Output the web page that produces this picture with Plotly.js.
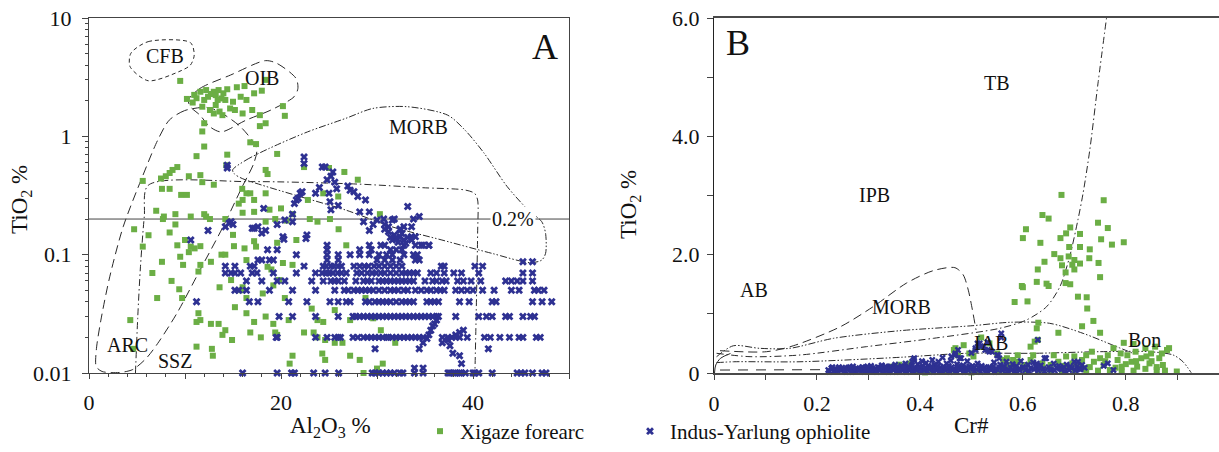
<!DOCTYPE html>
<html><head><meta charset="utf-8">
<script src="https://cdn.plot.ly/plotly-3.0.1.min.js"></script>
<style>html,body{margin:0;padding:0;background:#fff}#chart{width:1219px;height:452px}</style>
</head><body><div id="chart"></div>
<script>
// ---------------- DATA ----------------
// Panel A: Xigaze forearc (green) [Al2O3 %, TiO2 %]
const greenA = [[9.5,2.94],[10.2,2.07],[10.96,2.24],[11.2,2.1],[11.6,2.38],[12.2,2.46],[12.4,2.16],[12.7,2.28],[13.0,2.38],[13.2,2.23],[13.5,2.46],[13.8,2.09],[14.0,2.31],[14.2,2.03],[12.0,2.03],[11.8,1.78],[12.6,1.67],[13.2,1.84],[13.6,1.62],[13.9,1.51],[13.0,1.56],[14.7,1.72],[15.0,1.96],[15.4,2.6],[16.2,2.66],[15.8,2.16],[16.0,1.56],[16.4,2.03],[17.0,1.67],[17.2,2.31],[18.0,2.43],[18.4,3.0],[17.8,1.51],[18.4,1.29],[17.8,1.22],[20.2,1.80],[20.4,1.49],[10.8,1.93],[14.4,2.5],[13.4,2.03],[15.2,1.67],
[12.0,1.29],[11.8,1.1],[12.0,0.82],[11.2,0.68],[11.6,0.47],[14.4,0.70],[14.3,0.57],[16.8,0.89],[17.4,0.86],[19.6,0.71],[18.4,0.52],[18.6,0.48],[22.4,0.55],[25.0,0.54],[26.6,0.50],[28.0,0.43],[5.6,0.42],[7.5,0.44],[8.0,0.46],[8.4,0.49],[8.7,0.52],[9.2,0.55],[10.4,0.46],[11.8,0.41],[13.0,0.39],[9.6,0.32],[10.2,0.32],[7.6,0.36],[8.4,0.36],[7.0,0.235],[7.8,0.21],[7.7,0.2],[10.6,0.21],[12.0,0.22],[12.6,0.2],[12.2,0.21],[14.2,0.2],
[4.7,0.164],[6.2,0.146],[5.6,0.117],[8.4,0.154],[9.0,0.18],[9.2,0.12],[9.5,0.096],[9.8,0.082],[10.0,0.133],[10.4,0.105],[10.6,0.117],[11.0,0.113],[11.6,0.118],[11.6,0.082],[11.4,0.072],[12.7,0.087],[13.8,0.1],[14.2,0.1],[13.6,0.053],[14.8,0.061],[6.6,0.07],[7.6,0.087],[8.6,0.06],[9.4,0.051],[7.1,0.043],[9.7,0.043],[11.4,0.032],[11.2,0.027],[11.6,0.028],[12.7,0.026],[13.5,0.026],[14.2,0.023],[13.9,0.021],[14.9,0.019],[11.2,0.0167],[12.8,0.016],[12.9,0.014],[4.6,0.016],[4.3,0.028],
[15.2,0.036],[15.9,0.05],[16.0,0.053],[16.4,0.043],[16.4,0.032],[17.2,0.027],[16.8,0.022],[17.9,0.02],[18.4,0.03],[19.2,0.026],[19.4,0.022],[19.6,0.021],[18.1,0.047],[18.6,0.079],[19.0,0.075],[19.2,0.055],[19.8,0.061],[20.2,0.085],[20.4,0.043],[20.8,0.028],[20.9,0.012],[21.2,0.014],[22.4,0.022],[23.2,0.035],[23.4,0.022],[23.8,0.02],[23.8,0.028],[24.4,0.027],[24.6,0.019],[24.3,0.0146],[24.6,0.0129],[25.6,0.018],[25.6,0.034],[26.4,0.018],[27.2,0.014],[28.2,0.0129],[28.6,0.01],[30.0,0.0109],[30.6,0.012],[31.9,0.018],[30.4,0.023],[29.6,0.029],[27.2,0.028],[28.8,0.043],
[15.96,0.36],[16.4,0.33],[16.0,0.29],[16.8,0.33],[17.2,0.29],[18.4,0.33],[16.0,0.226],[17.2,0.23],[18.8,0.24],[19.4,0.2],[20.0,0.246],[20.6,0.194],[21.2,0.22],[21.6,0.133],[22.8,0.29],[23.0,0.2],[23.8,0.19],[24.4,0.33],[25.1,0.2],[25.96,0.31],[26.0,0.164],[26.8,0.12],[30.3,0.22],[19.6,0.126],[21.2,0.082],[15.6,0.27],[15.0,0.147],[15.1,0.118],[16.2,0.113],[17.4,0.117],[16.4,0.09],[17.2,0.13],[18.4,0.19],[9.0,0.22]];

// Panel A: Indus-Yarlung ophiolite (blue), Al2O3 values on each reported TiO2 level
const blueA_ti = [0.01,0.02,0.03,0.04,0.05,0.06,0.07,0.08,0.09,0.1,0.11,0.12];
const blueA_T001 = [16.0,19.6,21.1,21.4,23.4,24.6,26.0,29.5,29.8,30.2,30.6,31.0,31.4,31.8,32.4,32.7,33.9,34.8,37.4,37.6,38.0,38.2,38.6,38.8,39.2,40.0,40.2,40.6,42.0,44.6,45.0,45.4,46.2,47.2,47.6];
const blueA_T002 = [19.5,19.6,23.6,24.8,25.6,25.96,26.2,27.5,28.0,28.6,29.0,29.4,29.8,30.2,30.6,31.0,31.2,31.6,32.0,32.4,32.8,33.2,33.6,34.0,34.4,34.8,36.8,37.4,37.8,38.2,38.6,39.4,41.2,41.8,42.8,43.8,44.8,45.2,46.6,47.0];
const blueA_T003 = [19.8,21.2,23.6,25.96,27.5,27.8,28.2,28.6,29.0,29.4,29.8,30.2,30.6,31.0,31.4,31.8,32.2,32.6,33.0,33.4,33.8,34.2,34.6,35.0,35.4,35.8,36.2,36.4,38.2,40.6,41.4,42.0,43.4,43.8,45.2,46.0,46.4];
const blueA_T004 = [11.2,16.7,17.6,20.8,22.7,25.1,25.96,26.8,27.2,28.8,29.2,29.8,30.2,30.6,31.0,31.4,32.0,32.6,33.0,33.4,33.8,35.2,35.6,36.0,36.4,38.6,39.6,42.0,42.4,46.2,47.2,48.2];
const blueA_T005 = [15.2,15.6,16.4,18.8,21.2,23.6,25.6,26.6,27.0,27.6,28.0,28.4,28.8,29.2,29.6,30.2,30.8,31.4,31.8,32.2,32.8,33.2,34.0,34.6,35.2,35.6,36.2,36.6,37.0,38.2,38.8,39.4,40.0,41.0,42.2,44.0,44.8,46.4,46.8,47.4];
const blueA_T006 = [16.4,18.0,19.6,20.4,23.2,24.4,25.2,25.6,25.96,26.6,27.8,28.6,29.0,29.4,30.2,30.6,31.0,31.4,31.8,32.2,32.6,33.0,33.4,33.8,35.0,35.8,36.2,36.8,37.2,38.4,39.0,39.8,40.8,43.4,44.0,44.6,45.2,46.2];
const blueA_T007 = [14.2,14.8,15.2,15.8,17.0,17.5,19.2,21.6,23.6,24.3,24.7,25.0,25.4,25.9,26.3,26.8,27.9,28.4,29.0,29.5,29.9,30.4,30.8,31.4,32.0,32.6,33.0,33.4,33.8,34.2,35.6,36.2,37.0,38.0,38.8,40.6,45.2,46.2];
const blueA_T008 = [14.2,15.2,16.8,17.2,22.4,24.4,24.7,25.2,25.5,25.96,26.3,27.6,28.2,28.7,29.1,29.7,30.2,30.8,31.4,32.0,32.6,36.7,37.0,40.2,41.0];
const blueA_T009 = [17.6,18.0,18.8,19.2,24.8,25.96,30.0,30.8,31.6,32.4,34.0,34.4];
const blueA_T010 = [21.6,24.8,25.96,27.2,28.2,29.2,30.2,31.0,31.6,32.8,33.8,34.2];
const blueA_T011 = [18.6,19.6,24.8,28.2,29.4,31.4,32.0,32.6];
const blueA_T012 = [24.8,29.2,30.4,30.8,32.8,34.0,34.6,35.4];
// Panel A blue points off the reported levels [Al2O3, TiO2]
const blueA_other = [[14.4,0.57],[14.4,0.54],[14.2,0.172],[14.6,0.184],[14.8,0.19],[15.0,0.18],[12.4,0.16],[10.6,0.133],[18.2,0.246],[17.6,0.172],[18.4,0.16],[18.0,0.152],[19.6,0.18],[20.4,0.196],[21.2,0.19],[20.2,0.142],[20.3,0.135],[21.2,0.22],[21.4,0.27],[21.6,0.29],[21.8,0.3],[22.0,0.33],[22.2,0.34],[22.4,0.67],[22.4,0.59],[22.6,0.137],[22.7,0.147],[23.6,0.33],[24.0,0.37],[24.3,0.55],[24.6,0.55],[24.8,0.43],[25.0,0.33],[25.2,0.46],[25.4,0.5],[25.1,0.28],[25.6,0.41],[25.8,0.36],[25.2,0.24],[25.96,0.26],[26.96,0.38],[27.2,0.35],[27.6,0.34],[28.0,0.31],[28.8,0.29],[28.2,0.23],[29.2,0.23],[28.6,0.19],[29.2,0.16],[29.6,0.18],[30.0,0.196],[30.7,0.2],[30.8,0.18],[31.2,0.172],[31.6,0.196],[31.8,0.2],[32.4,0.165],[32.8,0.172],[33.2,0.255],[33.6,0.172],[33.8,0.2],[34.4,0.21],[33.6,0.142],[34.8,0.12],[35.4,0.12],[17.0,0.167],[17.2,0.167],[45.2,0.087],[46.2,0.087],
[31.6,0.133],[32.0,0.137],[32.4,0.142],[32.8,0.133],[31.8,0.147],[32.2,0.127],[32.6,0.151],[31.4,0.14],[33.0,0.125],[33.2,0.14],[31.2,0.156],[32.4,0.162],[30.8,0.164],[34.0,0.142],[33.6,0.133],
[34.4,0.016],[34.8,0.018],[35.2,0.0196],[35.4,0.021],[35.6,0.023],[35.8,0.025],[36.0,0.026],[36.2,0.028],[29.8,0.016],[36.8,0.018],[37.6,0.017],[37.9,0.0147],[37.4,0.019],[38.2,0.021],[38.6,0.022],[39.0,0.023],[41.6,0.016],[33.9,0.011],[34.8,0.011],[38.8,0.012],[38.6,0.014]];

// Panel B: [Cr#, TiO2 %]
const greenB = [[0.675,3.01],[0.757,2.92],[0.638,2.67],[0.65,2.61],[0.606,2.43],[0.6,2.28],[0.673,2.28],[0.684,2.36],[0.692,2.46],[0.711,2.35],[0.746,2.54],[0.765,2.45],[0.752,2.26],[0.773,2.17],[0.796,2.21],[0.634,2.2],[0.69,2.13],[0.711,2.13],[0.73,2.09],[0.673,1.94],[0.689,1.97],[0.70,1.91],[0.711,1.85],[0.642,1.88],[0.661,2.01],[0.729,1.94],[0.747,1.86],[0.629,1.75],[0.676,1.82],[0.696,1.83],[0.683,1.70],[0.70,1.75],[0.75,1.62],[0.627,1.54],[0.683,1.52],[0.692,1.50],[0.646,1.51],[0.65,1.47],[0.598,1.47],[0.60,1.45],[0.707,1.29],[0.724,1.28],[0.584,1.2],[0.609,1.21],[0.725,1.09],[0.737,0.88],[0.715,0.79],[0.63,0.85],[0.627,0.755],[0.669,0.68],[0.75,0.68],[0.623,0.53],[0.629,0.56],[0.796,0.51],[0.615,0.445],
[0.469,0.42],[0.485,0.47],[0.496,0.33],[0.504,0.28],[0.515,0.44],[0.519,0.6],[0.535,0.5],[0.55,0.33],[0.562,0.22],[0.569,0.25],[0.581,0.22],[0.592,0.19],[0.577,0.107],[0.604,0.135],[0.615,0.22],[0.638,0.163],[0.654,0.135],[0.669,0.19],[0.684,0.28],[0.696,0.163],[0.707,0.135],[0.715,0.22],[0.723,0.3],[0.734,0.36],[0.738,0.19],[0.75,0.25],[0.757,0.135],[0.765,0.3],[0.776,0.42],[0.784,0.22],[0.792,0.107],[0.803,0.3],[0.811,0.19],[0.819,0.36],[0.822,0.107],[0.83,0.25],[0.838,0.42],[0.846,0.163],[0.849,0.33],[0.857,0.445],[0.865,0.25],[0.872,0.135],[0.884,0.42],[0.88,0.39],[0.899,0.025],[0.876,0.04],[0.86,0.05],[0.838,0.07],[0.815,0.04],[0.792,0.025],[0.769,0.05],[0.746,0.04],[0.723,0.025],[0.70,0.04],[0.676,0.05],[0.654,0.025],[0.63,0.04],[0.607,0.025],[0.584,0.04],[0.554,0.025],[0.531,0.025],[0.508,0.04],[0.469,0.025],[0.446,0.025],[0.423,0.025],[0.392,0.025],[0.362,0.07],[0.346,0.107],[0.815,0.49],[0.466,0.39],[0.474,0.30],[0.36,0.14],[0.37,0.1],[0.38,0.16],[0.41,0.01],[0.44,0.02],[0.5,0.01],[0.56,0.06],[0.6,0.08],[0.64,0.06],[0.72,0.08],[0.78,0.09],[0.8,0.15],[0.82,0.2],[0.84,0.28],[0.86,0.1],[0.87,0.33],[0.85,0.2],[0.79,0.33],[0.76,0.2],[0.73,0.1],[0.7,0.28],[0.68,0.12],[0.66,0.3],[0.62,0.3],[0.59,0.3],[0.57,0.14]];

const blueB = [[0.222,0.05],[0.228,0.08],[0.232,0.03],[0.238,0.06],[0.243,0.1],[0.247,0.04],[0.252,0.07],[0.256,0.02],[0.261,0.09],[0.266,0.05],[0.27,0.11],[0.274,0.03],[0.279,0.07],[0.283,0.05],[0.288,0.1],[0.292,0.02],[0.296,0.08],[0.3,0.05],[0.305,0.12],[0.309,0.03],[0.313,0.07],[0.318,0.1],[0.322,0.04],[0.326,0.13],[0.331,0.06],[0.335,0.09],[0.339,0.02],[0.343,0.11],[0.348,0.05],[0.352,0.14],[0.356,0.08],[0.36,0.03],[0.364,0.12],[0.368,0.06],[0.372,0.16],[0.376,0.09],[0.38,0.04],[0.384,0.13],[0.388,0.22],[0.392,0.07],[0.396,0.15],[0.4,0.1],[0.404,0.2],[0.408,0.05],[0.412,0.17],[0.416,0.12],[0.42,0.08],[0.424,0.22],[0.428,0.14],[0.432,0.04],[0.436,0.19],[0.44,0.1],[0.444,0.26],[0.448,0.07],[0.452,0.16],[0.456,0.12],[0.46,0.21],[0.464,0.05],[0.468,0.3],[0.472,0.15],[0.476,0.09],[0.48,0.25],[0.484,0.13],[0.488,0.06],[0.492,0.2],[0.496,0.11],[0.5,0.34],[0.504,0.08],[0.508,0.39],[0.512,0.16],[0.516,0.5],[0.52,0.12],[0.524,0.45],[0.528,0.05],[0.532,0.39],[0.536,0.1],[0.54,0.36],[0.544,0.18],[0.548,0.07],[0.552,0.3],[0.556,0.14],[0.56,0.04],[0.564,0.11],[0.568,0.19],[0.572,0.06],[0.576,0.09],[0.58,0.15],[0.584,0.03],[0.588,0.12],[0.592,0.07],[0.596,0.2],[0.6,0.1],[0.605,0.05],[0.61,0.14],[0.615,0.08],[0.62,0.18],[0.625,0.11],[0.63,0.04],[0.635,0.13],[0.64,0.07],[0.645,0.25],[0.65,0.1],[0.655,0.05],[0.66,0.16],[0.665,0.09],[0.67,0.12],[0.675,0.06],[0.68,0.1],[0.685,0.14],[0.69,0.05],[0.695,0.08],[0.7,0.19],[0.705,0.11],[0.71,0.07],[0.715,0.135],[0.72,0.09],
[0.558,0.67],[0.558,0.6],[0.629,0.56],[0.531,0.52],[0.512,0.5],[0.519,0.45],[0.527,0.39],[0.535,0.36],[0.508,0.42],[0.469,0.33],[0.474,0.39],[0.461,0.28],[0.477,0.25],[0.389,0.25],[0.385,0.19],[0.55,0.3],[0.554,0.25],[0.642,0.25],[0.627,0.16],[0.707,0.19],[0.765,0.163],[0.776,0.05],[0.757,0.12],
[0.224,0.02],[0.23,0.1],[0.236,0.04],[0.241,0.07],[0.249,0.09],[0.254,0.04],[0.259,0.06],[0.264,0.1],[0.268,0.02],[0.276,0.08],[0.281,0.04],[0.286,0.06],[0.29,0.09],[0.294,0.05],[0.298,0.11],[0.303,0.03],[0.307,0.08],[0.311,0.05],[0.316,0.02],[0.32,0.09],[0.324,0.06],[0.329,0.03],[0.333,0.11],[0.337,0.07],[0.341,0.04],[0.346,0.09],[0.35,0.06],[0.354,0.02],[0.358,0.1],[0.362,0.07],[0.366,0.04],[0.37,0.09],[0.374,0.02],[0.378,0.11],[0.382,0.07],[0.386,0.03],[0.39,0.1],[0.394,0.04],[0.398,0.08],[0.402,0.03],[0.406,0.12],[0.41,0.09],[0.414,0.03],[0.418,0.06],[0.422,0.11],[0.426,0.02],[0.43,0.08],[0.434,0.12],[0.438,0.05],[0.442,0.03],[0.446,0.11],[0.45,0.04],[0.454,0.08],[0.458,0.02],[0.462,0.1],[0.466,0.07],[0.47,0.03],[0.474,0.11],[0.478,0.05],[0.482,0.08],[0.486,0.02],[0.49,0.1],[0.494,0.04],[0.498,0.07],[0.502,0.12],[0.506,0.03],[0.51,0.06],[0.514,0.09],[0.518,0.02],[0.522,0.07],[0.526,0.1],[0.53,0.03],[0.534,0.08],[0.538,0.05],[0.542,0.11],[0.546,0.02],[0.55,0.06],[0.554,0.09],[0.562,0.07],[0.57,0.03],[0.578,0.05],[0.586,0.08],[0.594,0.04],[0.602,0.09],[0.612,0.03],[0.622,0.06],[0.632,0.09],[0.642,0.03],[0.652,0.06],[0.662,0.04],[0.672,0.08],[0.682,0.03],[0.692,0.11],[0.702,0.04],[0.712,0.06]];

// Field boundaries, panel A [Al2O3, TiO2]
const fieldCFB = [[4.36,5.03],[6.16,6.31],[10.56,6.2],[10.96,4.87],[10.56,4.0],[9.36,3.52],[6.16,2.95],[4.28,3.88],[4.36,5.03]];
const fieldOIB = [[10.36,2.03],[11.56,2.54],[14.76,3.3],[18.36,4.36],[19.56,4.14],[21.56,3.09],[21.76,2.54],[21.36,2.16],[18.96,1.67],[16.36,1.37],[13.76,1.09],[12.56,1.21],[11.56,1.51],[10.56,1.78],[10.36,2.03]];
const fieldARC = [[12.16,1.76],[9.96,1.65],[8.36,1.37],[7.16,0.93],[5.56,0.456],[3.56,0.172],[2.16,0.065],[1.24,0.028],[0.76,0.0156],[0.76,0.0113],[1.36,0.0103],[3.16,0.0101],[4.56,0.0107],[5.96,0.0133],[7.16,0.0178],[9.16,0.032],[11.56,0.074],[13.96,0.172],[15.96,0.375],[17.16,0.59],[17.48,0.77],[16.96,0.93],[15.76,1.21],[14.16,1.51],[12.96,1.70],[12.16,1.76]];
const fieldSSZ = [[4.84,0.01],[5.08,0.0299],[5.36,0.079],[5.76,0.21],[6.16,0.385],[16.76,0.414],[27.96,0.395],[34.76,0.368],[39.16,0.352],[40.16,0.33],[40.48,0.29],[40.48,0.151],[40.36,0.0414],[40.2,0.01]];
const fieldMORB_A = [[14.96,0.52],[16.36,0.63],[18.76,0.79],[22.76,1.09],[26.76,1.42],[29.56,1.72],[33.16,1.78],[37.36,1.51],[39.16,1.13],[41.16,0.72],[43.56,0.376],[45.76,0.238],[47.16,0.19],[47.56,0.151],[47.56,0.1026],[47.16,0.09],[45.96,0.0856],[41.96,0.1026],[36.76,0.133],[31.56,0.172],[26.76,0.238],[21.96,0.31],[17.96,0.388],[15.96,0.44],[15.16,0.48],[14.96,0.52]];
const refLineAl = [0, 50];
const refLineTi = [0.2, 0.2];

// Field boundaries, panel B [Cr#, TiO2]
const lineUpperB = [[0.005,0.275],[0.0375,0.46],[0.089,0.417],[0.147,0.417],[0.232,0.586],[0.361,0.715],[0.503,0.80],[0.575,0.857],[0.652,0.84],[0.717,0.67],[0.782,0.445],[0.814,0.333]];
const lineMorbB = [[0.0117,0.377],[0.102,0.36],[0.154,0.46],[0.245,0.78],[0.309,1.12],[0.374,1.52],[0.426,1.73],[0.468,1.78],[0.484,1.66],[0.494,1.40],[0.502,1.065],[0.509,0.727]];
const lineTBB = [[0.005,0.333],[0.07,0.276],[0.167,0.304],[0.296,0.445],[0.426,0.586],[0.555,0.755],[0.607,0.896],[0.646,1.12],[0.672,1.46],[0.691,1.97],[0.707,2.59],[0.717,3.04],[0.73,3.77],[0.746,4.90],[0.7625,6.0]];
const lineLowerB = [[0.005,0.175],[0.038,0.19],[0.167,0.19],[0.361,0.265],[0.49,0.333],[0.62,0.333],[0.749,0.36],[0.846,0.36],[0.892,0.304],[0.911,0.19],[0.927,0.005]];
const lineBottomB = [[0.0117,0.05],[0.206,0.056]];
const lineOriginB = [[0.001,0.0],[0.0034,0.135],[0.0128,0.25],[0.032,0.33]];

// ---------------- STYLE ----------------
const FONT = 'Liberation Serif, Times New Roman, DejaVu Serif, serif';
const GREEN = '#6BAE45';
const BLUE = '#2E3192';
const LC = '#2a2a2a';
const DASH_SHORT = '4px,3px';
const DASH_LONG = '9px,5px';
const DASH_DOT = '7px,3px,1.5px,3px';
const DASH_DOT2 = '7px,2px,1.5px,2px,1.5px,2px';

function lineTrace(pts, dash, xa, ya, shape) {
  return {type:'scatter', mode:'lines', x: pts.map(p=>p[0]), y: pts.map(p=>p[1]),
    xaxis: xa, yaxis: ya, line:{color:LC, width:1, dash: dash, shape: shape||'spline', smoothing:0.8},
    hoverinfo:'skip', showlegend:false, cliponaxis:true};
}

const bAx = [], bAy = [];
const rows = [blueA_T001,blueA_T002,blueA_T003,blueA_T004,blueA_T005,blueA_T006,blueA_T007,blueA_T008,blueA_T009,blueA_T010,blueA_T011,blueA_T012];
rows.forEach((r,i)=>{ r.forEach(a=>{ bAx.push(a); bAy.push(blueA_ti[i]); }); });
blueA_other.forEach(p=>{ bAx.push(p[0]); bAy.push(p[1]); });

const traces = [
  lineTrace(fieldCFB, DASH_SHORT, 'x', 'y'),
  lineTrace(fieldOIB, DASH_LONG, 'x', 'y'),
  lineTrace(fieldARC, DASH_LONG, 'x', 'y'),
  lineTrace(fieldSSZ, DASH_DOT, 'x', 'y'),
  lineTrace(fieldMORB_A, DASH_DOT2, 'x', 'y'),
  {type:'scatter', mode:'lines', x: refLineAl, y: refLineTi, xaxis:'x', yaxis:'y', line:{color:'#444', width:1}, hoverinfo:'skip', showlegend:false},
  lineTrace(lineUpperB, DASH_DOT2, 'x2', 'y2'),
  lineTrace(lineMorbB, DASH_LONG, 'x2', 'y2'),
  lineTrace(lineTBB, DASH_DOT, 'x2', 'y2'),
  lineTrace(lineLowerB, DASH_DOT2, 'x2', 'y2'),
  lineTrace(lineBottomB, '10px,8px', 'x2', 'y2', 'linear'),
  lineTrace(lineOriginB, 'solid', 'x2', 'y2'),
  {type:'scatter', mode:'markers', name:'Xigaze forearc', legendgroup:'g', legendwidth:165,
   x: greenA.map(p=>p[0]), y: greenA.map(p=>p[1]), xaxis:'x', yaxis:'y',
   marker:{symbol:'square', size:6, color:GREEN}, cliponaxis:false, showlegend:true},
  {type:'scatter', mode:'markers', name:'Indus-Yarlung ophiolite', legendgroup:'b', legendwidth:270,
   x: bAx, y: bAy, xaxis:'x', yaxis:'y',
   marker:{symbol:'x', size:7, color:BLUE, line:{width:0}}, cliponaxis:false, showlegend:true},
  {type:'scatter', mode:'markers', name:'Xigaze forearc', legendgroup:'g',
   x: greenB.map(p=>p[0]), y: greenB.map(p=>p[1]), xaxis:'x2', yaxis:'y2',
   marker:{symbol:'square', size:6, color:GREEN}, cliponaxis:false, showlegend:false},
  {type:'scatter', mode:'markers', name:'Indus-Yarlung ophiolite', legendgroup:'b',
   x: blueB.map(p=>p[0]), y: blueB.map(p=>p[1]), xaxis:'x2', yaxis:'y2',
   marker:{symbol:'x', size:6, color:BLUE, line:{width:0}}, cliponaxis:false, showlegend:false}
];

const W = 1219, H = 452;
const yDom = [(H-373)/H, (H-18)/H];
const tf = {family:FONT, size:22, color:'#111'};
const minorLogVals = [];
[0.01,0.1,1].forEach(d=>{ [2,3,4,5,6,7,8,9].forEach(k=>minorLogVals.push(+(d*k).toPrecision(3))); });
const titleFont = {family:FONT, size:23, color:'#111'};
const labFont = {family:FONT, size:20, color:'#111'};

const layout = {
  width: W, height: H,
  margin: {l:0, r:0, t:0, b:0, autoexpand:false},
  paper_bgcolor:'#fff', plot_bgcolor:'rgba(0,0,0,0)',
  showlegend: true,
  font: {family: FONT, color:'#111'},
  xaxis: {domain:[89/W, 569/W], range:[0,50], anchor:'y',
    showline:true, linecolor:'#444', linewidth:1, mirror:true,
    ticks:'outside', ticklen:5, tickcolor:'#444',
    tickmode:'array', tickvals:[0,10,20,30,40,50], ticktext:['0','','20','','40',''],
    minor:{dtick:2, ticklen:3, ticks:'outside', tickcolor:'#444'},
    tickfont: tf, ticklabelstandoff: 5, showgrid:false, zeroline:false},
  yaxis: {domain:yDom, type:'log', range:[-2,1], anchor:'x',
    showline:true, linecolor:'#444', linewidth:1, mirror:true,
    ticks:'outside', ticklen:6, tickcolor:'#444',
    tickmode:'array', tickvals:[0.01,0.1,1,10], ticktext:['0.01','0.1','1','10'],
    minor:{tickmode:'array', tickvals:minorLogVals, ticklen:3, ticks:'outside', tickcolor:'#444'},
    tickfont: tf, ticklabelstandoff: 6, showgrid:false, zeroline:false},
  xaxis2: {domain:[714/W, 1], range:[0,0.981], anchor:'y2',
    showline:true, linecolor:'#4a4a4a', linewidth:1.8, mirror:true,
    ticks:'outside', ticklen:5, tickcolor:'#444',
    tickmode:'array', tickvals:[0,0.1,0.2,0.3,0.4,0.5,0.6,0.7,0.8,0.9], ticktext:['0','','0.2','','0.4','','0.6','','0.8',''],
    tickfont: tf, ticklabelstandoff: 5, showgrid:false, zeroline:false},
  yaxis2: {domain:yDom, range:[0,6], anchor:'x2',
    showline:true, linecolor:'#222', linewidth:1, mirror:false,
    ticks:'outside', ticklen:6, tickcolor:'#444',
    tickmode:'array', tickvals:[0,1,2,3,4,5,6], ticktext:['0','','2.0','','4.0','','6.0'],
    tickfont: tf, ticklabelstandoff: 3, showgrid:false, zeroline:false},
  legend: {orientation:'h', x:420/W, xanchor:'left', y:0, yanchor:'bottom',
    font:{family:FONT, size:21, color:'#111'}, bgcolor:'rgba(0,0,0,0)',
    borderwidth:0, itemclick:false, itemdoubleclick:false},
  annotations: [
    {xref:'paper', yref:'paper', x:330/W, y:(H-427)/H, xanchor:'center', yanchor:'middle', text:'Al<sub>2</sub>O<sub>3</sub> %', showarrow:false, font:titleFont},
    {xref:'paper', yref:'paper', x:971/W, y:(H-425)/H, xanchor:'center', yanchor:'middle', text:'Cr#', showarrow:false, font:titleFont},
    {xref:'paper', yref:'paper', x:21/W, y:(H-200)/H, xanchor:'center', yanchor:'middle', text:'TiO<sub>2</sub> %', textangle:-90, showarrow:false, font:titleFont},
    {xref:'paper', yref:'paper', x:630/W, y:(H-205)/H, xanchor:'center', yanchor:'middle', text:'TiO<sub>2</sub> %', textangle:-90, showarrow:false, font:titleFont},
    {xref:'x', yref:'y', x:7.9, y:0.679, text:'CFB', showarrow:false, font:labFont},
    {xref:'x', yref:'y', x:18.0, y:0.49, text:'OIB', showarrow:false, font:labFont},
    {xref:'x', yref:'y', x:34.3, y:0.082, text:'MORB', showarrow:false, font:labFont},
    {xref:'x', yref:'y', x:3.96, y:-1.763, text:'ARC', showarrow:false, font:labFont},
    {xref:'x', yref:'y', x:8.96, y:-1.896, text:'SSZ', showarrow:false, font:labFont},
    {xref:'x', yref:'y', x:44.2, y:-0.699, text:'0.2%', showarrow:false, bgcolor:'#fff', font:labFont},
    {xref:'x', yref:'y', x:47.5, y:0.755, text:'A', showarrow:false, font:{family:FONT, size:36, color:'#111'}},
    {xref:'x2', yref:'y2', x:0.047, y:5.58, text:'B', showarrow:false, font:{family:FONT, size:36, color:'#111'}},
    {xref:'x2', yref:'y2', x:0.55, y:4.9, text:'TB', showarrow:false, font:labFont},
    {xref:'x2', yref:'y2', x:0.311, y:3.0, text:'IPB', showarrow:false, font:labFont},
    {xref:'x2', yref:'y2', x:0.078, y:1.40, text:'AB', showarrow:false, font:labFont},
    {xref:'x2', yref:'y2', x:0.365, y:1.12, text:'MORB', showarrow:false, font:labFont},
    {xref:'x2', yref:'y2', x:0.538, y:0.5, text:'IAB', showarrow:false, font:labFont},
    {xref:'x2', yref:'y2', x:0.837, y:0.56, text:'Bon', showarrow:false, font:labFont}
  ]
};

Plotly.newPlot('chart', traces, layout, {staticPlot:true, displayModeBar:false});
</script></body></html>
